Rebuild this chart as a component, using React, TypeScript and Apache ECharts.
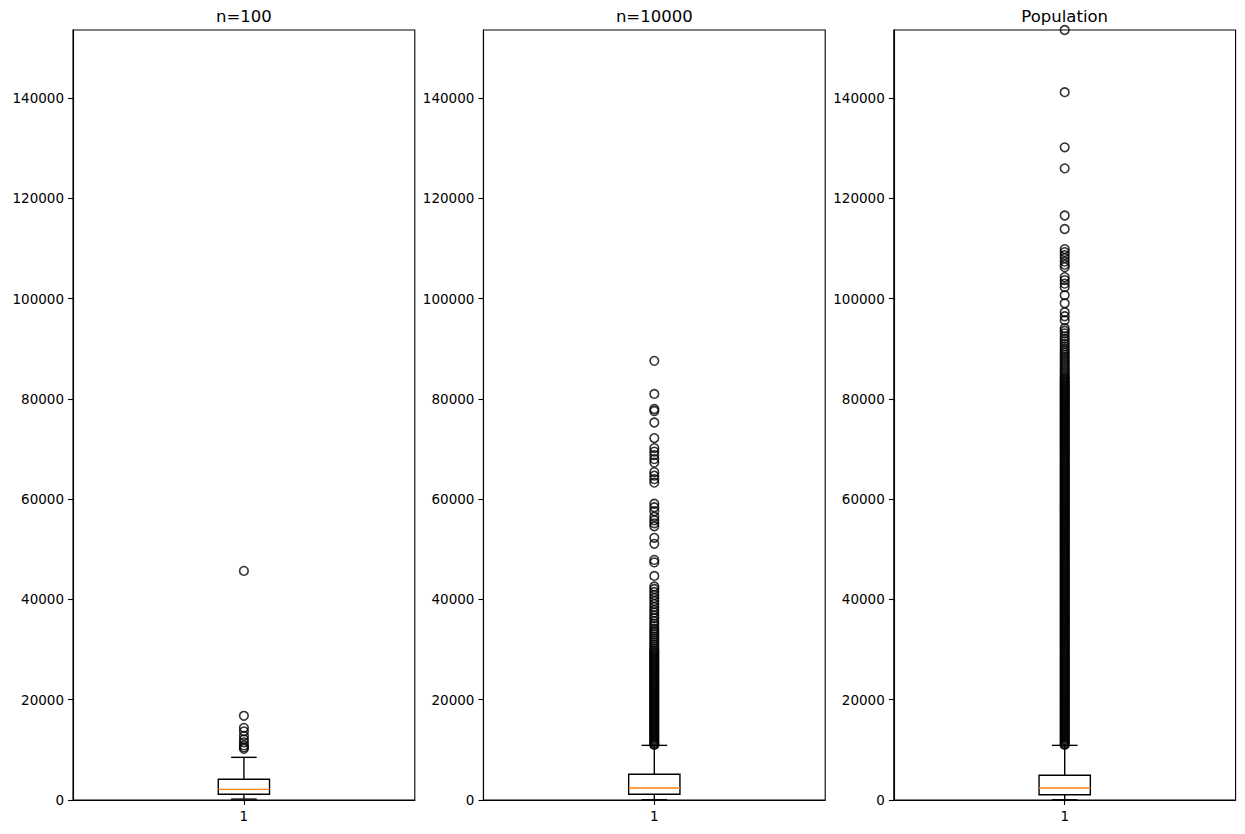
import React, { useEffect, useRef } from "react";
import * as echarts from "echarts";

const panelTitles = ["n=100", "n=10000", "Population"];
const categories = ["1"];
const yTicks = [0, 20000, 40000, 60000, 80000, 100000, 120000, 140000];
const yMax = 153600;

// [low whisker, Q1, median, Q3, high whisker]
const boxN100 = [180, 1140, 2130, 4130, 8510];
const boxN10000 = [40, 1140, 2390, 5125, 10900];
const boxPop = [40, 1060, 2390, 4925, 10900];

const outliersN100 = [45700, 16800, 14400, 13700, 12800, 12100, 11500, 10900, 10500, 10200];

const outliersN10000 = [
  87600, 81000, 78000, 77600, 75300, 72200, 70200, 69500, 68800, 68000, 67300,
  65400, 64700, 64000, 63300, 59100, 58400, 57600, 56500, 55800, 55200, 54600,
  52300, 51100, 47900, 47400, 44700, 42600, 42100, 41500, 40900, 40300, 39700,
  39100, 38500, 37900, 37400, 36800, 36300, 35700, 35200, 34700, 34200, 33800,
  33400, 33000, 32600, 32200, 31800, 31400, 31000, 30600, 30200,
  29860, 29600, 29350, 29110, 28850, 28600, 28360, 28100, 27850, 27610,
  27350, 27100, 26860, 26600, 26350, 26110, 25850, 25600, 25360, 25100,
  24850, 24610, 24350, 24100, 23860, 23600, 23350, 23110, 22850, 22600,
  22360, 22100, 21850, 21610, 21350, 21100, 20860, 20600, 20350, 20110,
  19850, 19600, 19360, 19100, 18850, 18610, 18350, 18100, 17860, 17600,
  17350, 17110, 16850, 16600, 16360, 16100, 15850, 15610, 15350, 15100,
  14860, 14600, 14350, 14110, 13850, 13600, 13360, 13100, 12850, 12610,
  12350, 12100, 11860, 11600, 11350, 11100, 10980,
];

const outliersPop = [
  153600, 141200, 130200, 126000, 116600, 113900, 109900, 109300, 108700, 108100,
  107400, 106800, 106300, 104300, 103700, 103000, 102300, 100700, 99100, 97300,
  96500, 95700, 94100, 93600, 93100, 92500, 92000, 91500, 91000, 90500, 90000,
  89600, 89200, 88800, 88400, 88000, 87600, 87200, 86800, 86400, 86000, 85600,
  85200, 84800, 84400,
  84100, 83860, 83600, 83350, 83110, 82850, 82600, 82360, 82100, 81850,
  81610, 81350, 81100, 80860, 80600, 80350, 80110, 79850, 79600, 79360,
  79100, 78850, 78610, 78350, 78100, 77860, 77600, 77350, 77110, 76850,
  76600, 76360, 76100, 75850, 75610, 75350, 75100, 74860, 74600, 74350,
  74110, 73850, 73600, 73360, 73100, 72850, 72610, 72350, 72100, 71860,
  71600, 71350, 71110, 70850, 70600, 70360, 70100, 69850, 69610, 69350,
  69100, 68860, 68600, 68350, 68110, 67850, 67600, 67360, 67100, 66850,
  66610, 66350, 66100, 65860, 65600, 65350, 65110, 64850, 64600, 64360,
  64100, 63850, 63610, 63350, 63100, 62860, 62600, 62350, 62110, 61850,
  61600, 61360, 61100, 60850, 60610, 60350, 60100, 59860, 59600, 59350,
  59110, 58850, 58600, 58360, 58100, 57850, 57610, 57350, 57100, 56860,
  56600, 56350, 56110, 55850, 55600, 55360, 55100, 54850, 54610, 54350,
  54100, 53860, 53600, 53350, 53110, 52850, 52600, 52360, 52100, 51850,
  51610, 51350, 51100, 50860, 50600, 50350, 50110, 49850, 49600, 49360,
  49100, 48850, 48610, 48350, 48100, 47860, 47600, 47350, 47110, 46850,
  46600, 46360, 46100, 45850, 45610, 45350, 45100, 44860, 44600, 44350,
  44110, 43850, 43600, 43360, 43100, 42850, 42610, 42350, 42100, 41860,
  41600, 41350, 41110, 40850, 40600, 40360, 40100, 39850, 39610, 39350,
  39100, 38860, 38600, 38350, 38110, 37850, 37600, 37360, 37100, 36850,
  36610, 36350, 36100, 35860, 35600, 35350, 35110, 34850, 34600, 34360,
  34100, 33850, 33610, 33350, 33100, 32860, 32600, 32350, 32110, 31850,
  31600, 31360, 31100, 30850, 30610, 30350, 30100, 29860, 29600, 29350,
  29110, 28850, 28600, 28360, 28100, 27850, 27610, 27350, 27100, 26860,
  26600, 26350, 26110, 25850, 25600, 25360, 25100, 24850, 24610, 24350,
  24100, 23860, 23600, 23350, 23110, 22850, 22600, 22360, 22100, 21850,
  21610, 21350, 21100, 20860, 20600, 20350, 20110, 19850, 19600, 19360,
  19100, 18850, 18610, 18350, 18100, 17860, 17600, 17350, 17110, 16850,
  16600, 16360, 16100, 15850, 15610, 15350, 15100, 14860, 14600, 14350,
  14110, 13850, 13600, 13360, 13100, 12850, 12610, 12350, 12100, 11860,
  11600, 11350, 11100, 10980,
];

const boxes = [boxN100, boxN10000, boxPop];
const outliers = [outliersN100, outliersN10000, outliersPop];

const FONT = "DejaVu Sans";
const gridLefts = [73, 483.4, 893.8];
const gridWidth = 341.8;
const gridTop = 30;
const gridHeight = 770;
const LW = 1.39;

export default function App() {
  const ref = useRef<HTMLDivElement>(null);
  useEffect(() => {
    if (!ref.current) return;
    const chart = echarts.init(ref.current, null, { renderer: "svg" });

    const grids = gridLefts.map((l) => ({
      left: l,
      top: gridTop,
      width: gridWidth,
      height: gridHeight,
      show: true,
      borderColor: "#000",
      borderWidth: 1.1,
      backgroundColor: "transparent",
      containLabel: false,
    }));

    const xAxes = gridLefts.map((_, i) => ({
      type: "category",
      gridIndex: i,
      data: categories,
      boundaryGap: true,
      axisLine: { show: true, lineStyle: { color: "#000", width: 1.1 } },
      axisTick: { show: true, alignWithLabel: true, length: 4.9, lineStyle: { color: "#000", width: 1.1 } },
      axisLabel: { color: "#000", fontSize: 13.5, fontFamily: FONT, margin: 9 },
      splitLine: { show: false },
    }));

    const yAxes = gridLefts.map((_, i) => ({
      type: "value",
      gridIndex: i,
      min: 0,
      max: yMax,
      interval: 20000,
      axisLine: { show: true, lineStyle: { color: "#000", width: 1.1 } },
      axisTick: { show: true, length: 4.9, customValues: yTicks, lineStyle: { color: "#000", width: 1.1 } },
      axisLabel: {
        color: "#000",
        fontSize: 13.5,
        fontFamily: FONT,
        margin: 9,
        customValues: yTicks,
        formatter: (v: number) => String(Math.round(v)),
      },
      splitLine: { show: false },
    }));

    const series: any[] = [];
    boxes.forEach((b, i) => {
      series.push({
        type: "custom",
        xAxisIndex: i,
        yAxisIndex: i,
        silent: true,
        data: [[0, ...b]],
        encode: { x: 0, y: [1, 2, 3, 4, 5] },
        renderItem: (params: any, api: any) => {
          const cat = api.value(0);
          const low = api.value(1);
          const q1 = api.value(2);
          const med = api.value(3);
          const q3 = api.value(4);
          const high = api.value(5);
          const cx = api.coord([cat, q1])[0];
          const band = api.size([1, 0])[0];
          const bw = band * 0.15;
          const cw = bw / 2;
          const y = (v: number) => api.coord([cat, v])[1];
          const ls = { stroke: "#000", lineWidth: LW, fill: "none" };
          return {
            type: "group",
            children: [
              { type: "line", shape: { x1: cx, y1: y(q1), x2: cx, y2: y(low) }, style: ls },
              { type: "line", shape: { x1: cx, y1: y(q3), x2: cx, y2: y(high) }, style: ls },
              { type: "line", shape: { x1: cx - cw / 2, y1: y(low), x2: cx + cw / 2, y2: y(low) }, style: ls },
              { type: "line", shape: { x1: cx - cw / 2, y1: y(high), x2: cx + cw / 2, y2: y(high) }, style: ls },
              { type: "rect", shape: { x: cx - bw / 2, y: y(q3), width: bw, height: y(q1) - y(q3) }, style: ls },
              {
                type: "line",
                shape: { x1: cx - bw / 2, y1: y(med), x2: cx + bw / 2, y2: y(med) },
                style: { stroke: "#ff7f0e", lineWidth: LW },
              },
            ],
          };
        },
      });
    });
    outliers.forEach((o, i) => {
      series.push({
        type: "scatter",
        xAxisIndex: i,
        yAxisIndex: i,
        silent: true,
        symbol: "circle",
        symbolSize: 8.6,
        itemStyle: { color: "rgba(0,0,0,0)", borderColor: "#000", borderWidth: 1.6 },
        data: o.map((v) => [0, v]),
      });
    });

    const graphic = panelTitles.map((t, i) => ({
      type: "text",
      x: gridLefts[i] + gridWidth / 2,
      y: 16,
      style: {
        text: t,
        fontSize: 16.5,
        fontFamily: FONT,
        fill: "#000",
        align: "center",
        verticalAlign: "middle",
      },
    }));

    chart.setOption({
      animation: false,
      backgroundColor: "#fff",
      grid: grids,
      xAxis: xAxes,
      yAxis: yAxes,
      series,
      graphic,
    });
    return () => chart.dispose();
  }, []);
  return (
    <div
      ref={ref}
      style={{ position: "absolute", left: 0, top: 0, width: 1245, height: 834 }}
    />
  );
}
